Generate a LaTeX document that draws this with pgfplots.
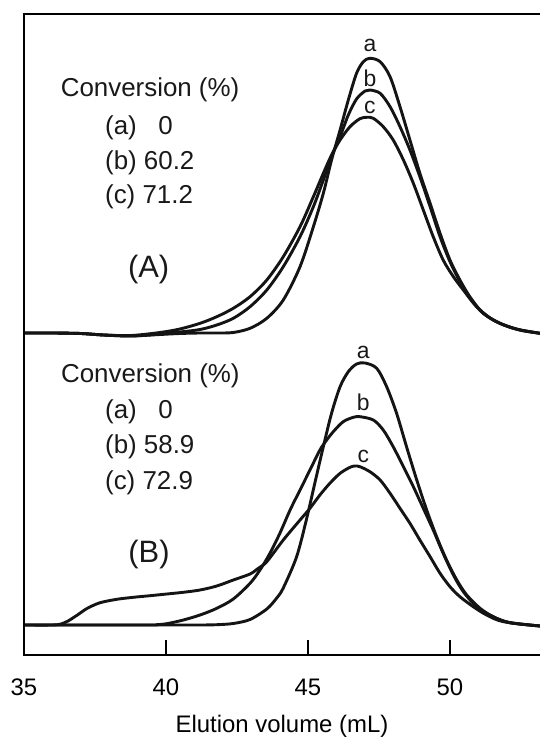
\documentclass[border=0pt]{standalone}
\usepackage{pgfplots}
\pgfplotsset{compat=1.18}
\usepackage{fontspec}
\setmainfont{Liberation Sans}
\begin{document}
\begin{tikzpicture}
\begin{axis}[
  scale only axis, width=516bp, height=641bp,
  xmin=35, xmax=53.17, ymin=0, ymax=641,
  clip=false,
  axis line style={draw=none},
  xtick={35,40,45,50}, ytick=\empty,
  tick align=inside, xtick pos=left,
  major tick length=15bp,
  every tick/.style={black, line width=2bp},
  xticklabel style={font=\fontsize{24}{28}\selectfont, anchor=base, yshift=-40bp},
  /pgf/number format/assume math mode=true,
  xlabel={Elution volume (mL)},
  every axis x label/.style={at={(axis description cs:0.5,0)}, anchor=base, yshift=-77bp, font=\fontsize{24}{28}\selectfont},
  every axis plot post/.append style={black!92, solid, line width=2.9bp, smooth, tension=0.5, mark=none, line join=round},
]
% ---------- Panel A ----------
\addplot coordinates {(35.00,322) (36.00,322) (37.00,321.5) (37.80,320) (38.77,319) (39.79,320.5) (40.49,321.5) (41.20,322) (41.79,322) (42.37,322.5) (42.96,326.7) (43.55,336.7) (44.13,355) (44.72,388.3) (45.19,428.3) (45.54,461.7) (45.83,495) (46.13,525) (46.42,555) (46.71,581.7) (46.95,593.3) (47.18,596.7) (47.54,593.3) (47.89,578.3) (48.24,548.3) (48.59,515) (48.94,481.7) (49.30,451.7) (49.65,421.7) (50.00,395) (50.35,375) (50.70,358.3) (51.17,341.7) (51.76,331.7) (52.46,325) (53.17,321.7)};
\addplot coordinates {(35.00,322) (36.00,322) (37.00,321.5) (37.80,320) (38.77,319) (39.79,321) (40.49,323) (41.20,325.5) (41.79,330) (42.37,336.7) (42.96,348.3) (43.55,365) (44.13,388.3) (44.72,418.3) (45.19,448.3) (45.54,475) (45.83,498.3) (46.13,518.3) (46.42,540) (46.71,556) (47.01,564) (47.18,565) (47.54,561.7) (47.89,548.3) (48.24,528.3) (48.59,505) (48.94,478.3) (49.30,448.3) (49.65,418.3) (50.00,393.3) (50.35,373.3) (50.70,356.7) (51.17,341.7) (51.76,331.7) (52.46,325) (53.17,321.7)};
\addplot coordinates {(35.00,322) (36.00,322) (37.00,321.5) (37.80,320) (38.77,319.5) (39.79,322.5) (40.49,326) (41.20,331.7) (41.79,338.3) (42.37,346.7) (42.96,358.3) (43.55,375) (44.13,398.3) (44.72,428.3) (45.19,458.3) (45.54,481.7) (45.83,500) (46.13,515) (46.48,528.3) (46.83,536.3) (47.07,537.7) (47.30,536.7) (47.65,528.3) (48.00,515) (48.36,495) (48.71,471.7) (49.06,445) (49.41,418.3) (49.76,395) (50.12,378.3) (50.47,365) (50.94,348.3) (51.52,335) (52.23,326.7) (53.17,321.7)};
% ---------- Panel B ----------
\addplot coordinates {(35.00,30) (40.00,30) (41.20,30) (41.79,30.3) (42.37,31.5) (42.96,35.5) (43.55,46) (43.90,57) (44.13,67) (44.60,98.3) (44.95,136) (45.25,173) (45.54,208.3) (45.83,241.7) (46.13,268.3) (46.42,283.3) (46.71,291) (47.01,292) (47.42,286.7) (47.77,268.3) (48.12,241.7) (48.47,208.3) (48.83,175) (49.18,145) (49.53,118.3) (49.88,95) (50.24,75) (50.59,60) (51.06,46.7) (51.52,38.3) (52.11,32.3) (53.17,29)};
\addplot coordinates {(35.00,30) (39.30,30) (39.67,30.3) (40.03,31.3) (40.61,35) (41.20,40) (41.79,46.7) (42.37,56) (42.96,71.7) (43.31,85) (43.66,101.7) (44.01,121.7) (44.37,145) (44.72,165) (45.07,185) (45.42,205) (45.66,215) (45.89,223.3) (46.24,233.3) (46.60,237.7) (46.83,238.3) (47.30,235) (47.65,225) (48.00,208.3) (48.36,188.3) (48.71,168.3) (49.06,146.7) (49.41,125) (49.76,101.7) (50.12,80) (50.47,63.3) (50.94,48.3) (51.52,38.3) (52.11,32.3) (53.17,29)};
\addplot coordinates {(35.00,30) (36.00,30) (36.30,31) (36.55,34) (36.88,40) (37.23,46.7) (37.68,52.3) (38.27,55.7) (38.85,57.7) (39.44,59.3) (40.03,61) (40.61,62.7) (41.20,65) (41.79,69) (42.37,75) (42.96,81) (43.25,86.7) (43.55,93.3) (44.13,115) (44.72,135) (45.07,146.7) (45.42,160) (45.77,171.7) (46.13,181.7) (46.48,187.7) (46.65,189) (46.83,188.3) (47.18,183.3) (47.54,175) (47.89,161.7) (48.24,146.7) (48.59,131.7) (48.94,115) (49.30,98.3) (49.65,81.7) (50.00,68.3) (50.35,58.3) (50.82,48.3) (51.29,40) (51.88,33.3) (53.17,29)};
% frame (left, top, bottom)
\draw[line width=2.8bp, line join=miter, black] (rel axis cs:1.02,1) -- (rel axis cs:0,1) -- (rel axis cs:0,0) -- (rel axis cs:1.02,0);
\coordinate (ll) at (rel axis cs:0,0);
\coordinate (ur) at (rel axis cs:1,1);
% text
\begin{scope}[every node/.style={inner sep=0pt, font=\fontsize{26}{30}\selectfont, black!90}]
\node[anchor=base west] at (axis cs:36.29,558) {Conversion (\%)};
\node[anchor=base west] at (axis cs:37.85,520) {(a) \phantom{6}0};
\node[anchor=base west] at (axis cs:37.85,485.7) {(b) 60.2};
\node[anchor=base west] at (axis cs:37.85,451) {(c) 71.2};
\node[anchor=base west] at (axis cs:36.30,272.3) {Conversion (\%)};
\node[anchor=base west] at (axis cs:37.85,236.7) {(a) \phantom{5}0};
\node[anchor=base west] at (axis cs:37.85,201.3) {(b) 58.9};
\node[anchor=base west] at (axis cs:37.85,165.7) {(c) 72.9};
\end{scope}
\node[inner sep=0pt, anchor=base, font=\fontsize{31}{36}\selectfont, black!90] at (axis cs:39.39,377) {(A)};
\node[inner sep=0pt, anchor=base, font=\fontsize{31}{36}\selectfont, black!90] at (axis cs:39.40,93) {(B)};
\begin{scope}[every node/.style={inner sep=0pt, anchor=base, font=\fontsize{23}{27}\selectfont, black!90}]
\node at (axis cs:47.18,603) {a};
\node at (axis cs:47.18,568.3) {b};
\node at (axis cs:47.18,541.7) {c};
\node at (axis cs:46.95,296) {a};
\node at (axis cs:46.95,244.3) {b};
\node at (axis cs:46.95,192) {c};
\end{scope}
\end{axis}
\pgfresetboundingbox
\path ([shift={(-24bp,-84bp)}]ll) rectangle ([shift={(0bp,14bp)}]ur);
\end{tikzpicture}
\end{document}
